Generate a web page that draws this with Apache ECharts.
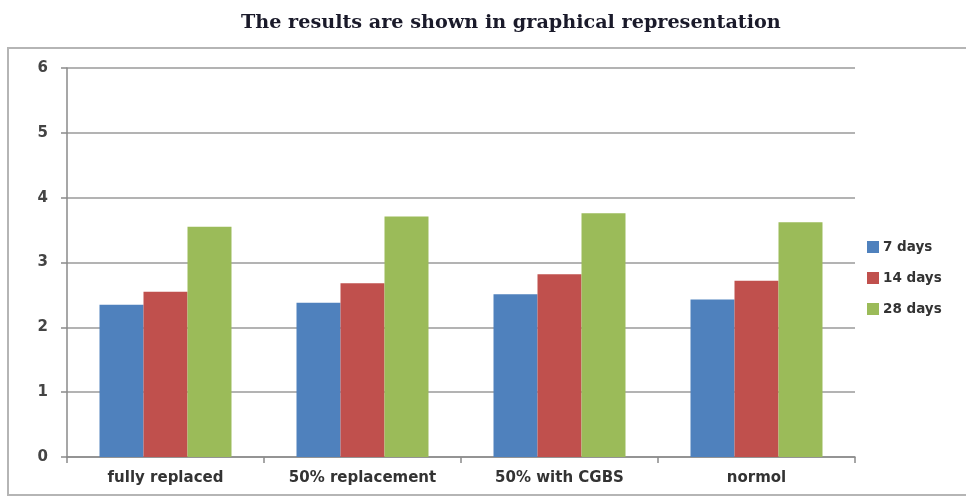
<!DOCTYPE html>
<html>
<head>
<meta charset="utf-8">
<script src="https://cdn.jsdelivr.net/npm/echarts@6/dist/echarts.min.js"></script>
<style>
  html, body { margin: 0; padding: 0; background: #fff; }
  #chart { width: 966px; height: 502px; }
</style>
</head>
<body>
<div id="chart"></div>
<script>
// Compressive strength by mix and curing age
var categories = ['fully replaced', '50% replacement', '50% with CGBS', 'normol'];
var days7 = [2.35, 2.38, 2.51, 2.43];
var days14 = [2.55, 2.68, 2.82, 2.72];
var days28 = [3.55, 3.71, 3.76, 3.62];
var seriesNames = ['7 days', '14 days', '28 days'];
var yTicks = [0, 1, 2, 3, 4, 5, 6];

var colors = ['#4F81BD', '#C0504D', '#9BBB59'];
var labelFont = 'DejaVu Sans';

var chart = echarts.init(document.getElementById('chart'), null, { renderer: 'canvas' });

function bar(name, data, color) {
  return {
    name: name,
    type: 'bar',
    data: data,
    barGap: '0%',
    barCategoryGap: '33%',
    itemStyle: { color: color },
    emphasis: { disabled: true }
  };
}

chart.setOption({
  animation: false,
  title: {
    text: 'The results are shown in graphical representation',
    left: 236,
    top: 9,
    textStyle: {
      fontFamily: 'DejaVu Serif',
      fontWeight: 'bold',
      fontSize: 19.2,
      color: '#1a1a2a'
    }
  },
  graphic: [{
    type: 'rect',
    shape: { x: 8, y: 48, width: 970, height: 447 },
    style: { fill: 'none', stroke: '#b5b5b5', lineWidth: 2 },
    silent: true,
    z: -1
  }],
  legend: {
    orient: 'vertical',
    left: 862,
    top: 235,
    itemWidth: 12,
    itemHeight: 12,
    itemGap: 17,
    icon: 'rect',
    data: seriesNames,
    textStyle: {
      fontFamily: labelFont,
      fontWeight: 'bold',
      fontSize: 13.5,
      color: '#333',
      padding: [0, 0, 0, -1]
    }
  },
  grid: {
    left: 67,
    top: 68,
    width: 788,
    height: 389,
    containLabel: false
  },
  xAxis: {
    type: 'category',
    data: categories,
    axisLine: { show: true, lineStyle: { color: '#8a8a8a', width: 1.5 } },
    axisTick: { show: true, length: 6, alignWithLabel: false, lineStyle: { color: '#8a8a8a', width: 1.5 } },
    axisLabel: {
      margin: 14,
      fontFamily: labelFont,
      fontWeight: 'bold',
      fontSize: 15,
      color: '#333'
    }
  },
  yAxis: {
    type: 'value',
    min: yTicks[0],
    max: yTicks[yTicks.length - 1],
    interval: 1,
    axisLine: { show: true, lineStyle: { color: '#8a8a8a', width: 1.5 } },
    axisTick: { show: true, length: 6, lineStyle: { color: '#8a8a8a', width: 1.5 } },
    splitLine: { show: true, lineStyle: { color: '#9a9a9a', width: 1.5 } },
    axisLabel: {
      margin: 19,
      fontFamily: labelFont,
      fontWeight: 'bold',
      fontSize: 15,
      color: '#444'
    }
  },
  series: [
    bar(seriesNames[0], days7, colors[0]),
    bar(seriesNames[1], days14, colors[1]),
    bar(seriesNames[2], days28, colors[2])
  ]
});
</script>
</body>
</html>
